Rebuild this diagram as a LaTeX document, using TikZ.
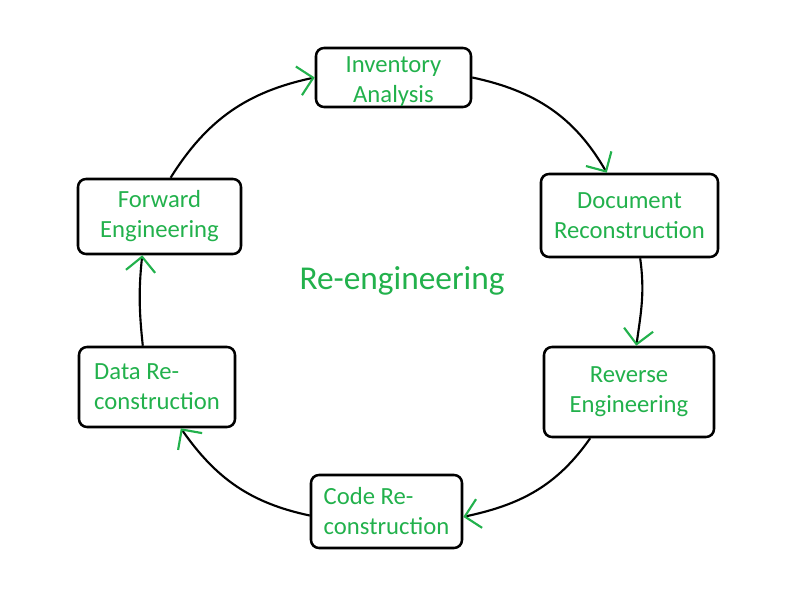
\documentclass[tikz,border=0pt]{standalone}
\usepackage{fontspec}
\setmainfont{Carlito}
\usetikzlibrary{arrows.meta}
\definecolor{pgreen}{RGB}{34,177,76}
\tikzset{
  box/.style={draw=black, line width=1.9pt, rounded corners=6pt, text=pgreen,
    font=\fontsize{18.5pt}{22.5pt}\selectfont, inner sep=0pt},
  boxtext/.style={text=pgreen, font=\fontsize{18.5pt}{22.5pt}\selectfont, inner sep=0pt},
  flow/.style={line width=1.6pt, black,
    -{Straight Barb[color=pgreen, length=11pt, width=22pt, line width=1.6pt]}}
}
\begin{document}
\begin{tikzpicture}[x=0.75pt,y=0.75pt]
\useasboundingbox (0,0) rectangle (800,600);
\node[box, minimum width=116.25pt, minimum height=44.25pt] (inv) at (393.5,522.5) {};
\node[boxtext, align=center] (invt) at ([yshift=-3pt]inv.center) {Inventory\\Analysis};
\node[box, minimum width=132.75pt, minimum height=62.25pt, align=center] (doc) at (629.5,384.5) {Document\\Reconstruction};
\node[box, minimum width=127.5pt, minimum height=67.5pt, align=center] (rev) at (629,208) {Reverse\\Engineering};
\node[box, minimum width=113.25pt, minimum height=54.75pt, align=left] (code) at (386.5,88.5) {Code Re-\\construction};
\node[box, minimum width=117pt, minimum height=60pt, align=left] (data) at (157,213) {Data Re-\\construction};
\node[box, minimum width=122.25pt, minimum height=56.25pt, align=center] (fwd) at (159.5,383.5) {Forward\\Engineering};
\node[text=pgreen, font=\fontsize{25pt}{29pt}\selectfont] (re) at (402,319) {Re-engineering};

\draw[flow] (fwd.74) to[out=58, in=192] (inv.west);
\draw[flow] (inv.east) to[out=-12, in=120] (doc.118);
\draw[flow] (doc.-76) to[out=-82, in=82] (rev.81);
\draw[flow] (rev.-130) to[out=-125, in=12] (code.-4);
\draw[flow] (code.183) to[out=168, in=-55] (data.-60);
\draw[flow] (data.109) to[out=96, in=-96] (fwd.-114);
\end{tikzpicture}
\end{document}
